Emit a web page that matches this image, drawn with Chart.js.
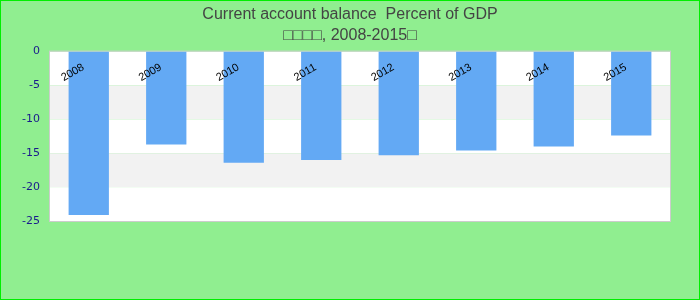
<!DOCTYPE html>
<html>
<head>
<meta charset="utf-8">
<script src="https://cdn.jsdelivr.net/npm/chart.js@4/dist/chart.umd.min.js"></script>
<style>
  body { margin: 0; background: #fff; }
  canvas { display: block; }
</style>
</head>
<body>
<canvas id="myChart" width="700" height="300"></canvas>
<script>
// data
var years = ["2008", "2009", "2010", "2011", "2012", "2013", "2014", "2015"];
var balance = [-24.1, -13.7, -16.4, -16.0, -15.3, -14.6, -14.0, -12.4];
var yTicks = [0, -5, -10, -15, -20, -25];
var titleLines = ["Current account balance  Percent of GDP", "\u25A1\u25A1\u25A1\u25A1, 2008-2015\u25A1"];

// page background, green frame
var frame = {
    id: "frame",
    beforeDraw: function (chart) {
        var ctx = chart.ctx;
        ctx.save();
        ctx.fillStyle = "#90ee90";
        ctx.fillRect(0, 0, chart.width, chart.height);
        ctx.strokeStyle = "#00ee00";
        ctx.lineWidth = 2;
        ctx.strokeRect(0, 0, chart.width, chart.height);
        ctx.restore();
    }
};

// white / light grey bands between the y ticks, plus the plot border
var bands = {
    id: "bands",
    beforeDatasetsDraw: function (chart) {
        var ctx = chart.ctx;
        var area = chart.chartArea;
        var y = chart.scales.y;
        ctx.save();
        for (var i = 0; i < yTicks.length - 1; i++) {
            var top = y.getPixelForValue(yTicks[i]);
            var bottom = y.getPixelForValue(yTicks[i + 1]);
            ctx.fillStyle = (i % 2 == 0) ? "#ffffff" : "#f2f2f2";
            ctx.fillRect(area.left, top, area.right - area.left, bottom - top);
        }
        ctx.strokeStyle = "#cccccc";
        ctx.lineWidth = 1;
        ctx.strokeRect(area.left - 0.5, area.top - 0.5, area.right - area.left + 1, area.bottom - area.top + 1);
        ctx.restore();
    }
};

// year labels, tilted, sitting inside the top of the plot
var yearLabels = {
    id: "yearLabels",
    afterDatasetsDraw: function (chart) {
        var ctx = chart.ctx;
        var x = chart.scales.x;
        var top = chart.chartArea.top;
        ctx.save();
        ctx.font = "11px 'Liberation Sans', Arial";
        ctx.fillStyle = "#000";
        ctx.textAlign = "center";
        ctx.textBaseline = "middle";
        for (var i = 0; i < years.length; i++) {
            ctx.save();
            ctx.translate(x.getPixelForValue(i) - 16, top + 21);
            ctx.rotate(-30 * Math.PI / 180);
            ctx.fillText(years[i], 0, 0);
            ctx.restore();
        }
        ctx.restore();
    }
};

new Chart("myChart", {
    type: "bar",
    data: {
        labels: years,
        datasets: [{
            data: balance,
            backgroundColor: "#63a9f4",
            categoryPercentage: 1,
            barPercentage: 0.52
        }]
    },
    options: {
        responsive: false,
        animation: false,
        layout: {
            padding: { top: 0, right: 0, bottom: 79, left: 0 }
        },
        plugins: {
            legend: { display: false },
            tooltip: { enabled: false },
            title: {
                display: true,
                text: titleLines,
                color: "#444",
                font: { family: "'Liberation Sans', Arial", size: 16, weight: "normal", lineHeight: 1.3 },
                padding: { top: 4, bottom: 6 }
            }
        },
        scales: {
            x: {
                display: false
            },
            y: {
                min: -25,
                max: 0,
                afterFit: function (scale) { scale.width = 50; },
                afterBuildTicks: function (scale) {
                    scale.ticks = yTicks.map(function (v) { return { value: v }; });
                },
                grid: { display: false, drawTicks: false },
                border: { display: false },
                ticks: {
                    color: "#1a1a8c",
                    padding: 10,
                    font: { family: "'DejaVu Sans'", size: 11 }
                }
            },
            // empty right-hand axis, only keeps the plot clear of the right edge
            yRight: {
                position: "right",
                min: -25,
                max: 0,
                afterFit: function (scale) { scale.width = 30; },
                grid: { display: false, drawTicks: false },
                border: { display: false },
                ticks: { display: false }
            }
        }
    },
    plugins: [frame, bands, yearLabels]
});
</script>
</body>
</html>
